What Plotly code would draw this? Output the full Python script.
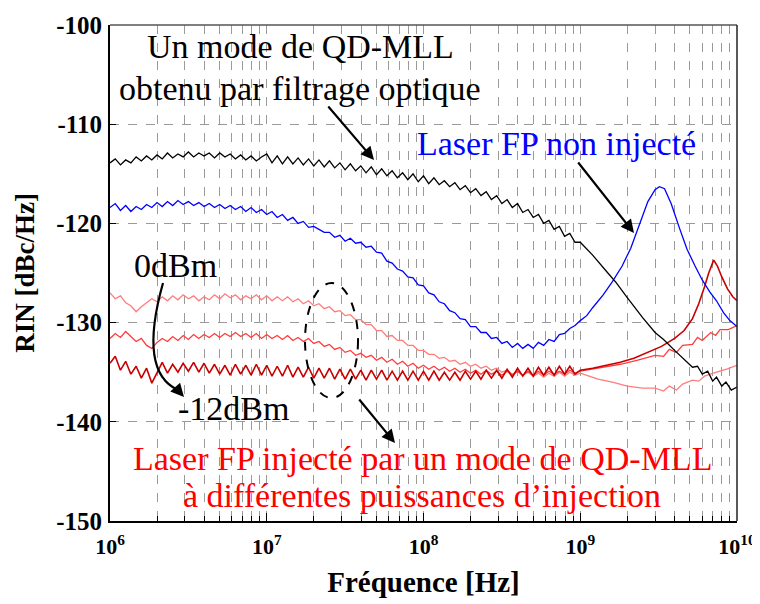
import plotly.graph_objects as go

# ---------------- data ----------------
# shared frequency grid for the noisy low-frequency part (1 MHz .. 1 GHz)
f_low = [1.000e6, 1.080e6, 1.166e6, 1.259e6, 1.359e6, 1.468e6, 1.585e6, 1.711e6, 1.848e6, 1.995e6,
         2.154e6, 2.326e6, 2.512e6, 2.712e6, 2.929e6, 3.162e6, 3.415e6, 3.687e6, 3.981e6, 4.299e6,
         4.642e6, 5.012e6, 5.412e6, 5.843e6, 6.310e6, 6.813e6, 7.356e6, 7.943e6, 8.577e6, 9.261e6,
         1.000e7, 1.080e7, 1.166e7, 1.259e7, 1.359e7, 1.468e7, 1.585e7, 1.711e7, 1.848e7, 1.995e7,
         2.154e7, 2.326e7, 2.512e7, 2.712e7, 2.929e7, 3.162e7, 3.415e7, 3.687e7, 3.981e7, 4.299e7,
         4.642e7, 5.012e7, 5.412e7, 5.843e7, 6.310e7, 6.813e7, 7.356e7, 7.943e7, 8.577e7, 9.261e7,
         1.000e8, 1.080e8, 1.166e8, 1.259e8, 1.359e8, 1.468e8, 1.585e8, 1.711e8, 1.848e8, 1.995e8,
         2.154e8, 2.326e8, 2.512e8, 2.712e8, 2.929e8, 3.162e8, 3.415e8, 3.687e8, 3.981e8, 4.299e8,
         4.642e8, 5.012e8, 5.412e8, 5.843e8, 6.310e8, 6.813e8, 7.356e8, 7.943e8, 8.577e8, 9.261e8,
         1.000e9]

# "Un mode de QD-MLL obtenu par filtrage optique" (black)
black_low = [-113.9, -113.5, -114.1, -113.6, -113.9, -113.3, -113.7, -113.2, -113.6, -113.1,
             -113.5, -112.9, -113.4, -113.0, -113.3, -112.8, -113.3, -112.9, -113.2, -112.9,
             -113.4, -112.9, -113.3, -113.0, -113.5, -113.1, -113.6, -113.2, -113.7, -113.3,
             -113.0, -113.9, -113.2, -114.0, -113.3, -114.0, -113.4, -114.1, -113.5, -114.2,
             -113.6, -114.3, -113.7, -114.4, -113.9, -114.6, -114.0, -114.7, -114.2, -114.9,
             -114.3, -115.1, -114.5, -115.2, -114.7, -115.4, -114.9, -115.6, -115.0, -115.8,
             -115.2, -116.0, -115.4, -116.1, -115.7, -116.3, -115.9, -116.6, -116.2, -116.9,
             -116.5, -117.2, -116.8, -117.6, -117.2, -118.0, -117.6, -118.4, -118.0, -118.9,
             -118.6, -119.4, -119.1, -120.0, -119.7, -120.6, -120.3, -121.3, -121.0, -121.9,
             -121.9]
black_high_f = [1.2e9, 1.5e9, 1.7e9, 2.0e9, 2.5e9, 3.0e9, 3.4e9, 4.0e9, 4.5e9, 5.2e9,
                5.6e9, 6.0e9, 6.5e9, 7.0e9, 7.4e9, 8.0e9, 8.5e9, 9.2e9, 1.0e10]
black_high = [-123.2, -125.0, -126.0, -127.5, -129.5, -131.0, -131.7, -132.8, -133.6, -134.5,
              -134.4, -135.2, -134.9, -135.9, -135.5, -136.4, -136.0, -136.8, -136.5]

# "Laser FP non injecté" (blue)
blue_low = [-118.4, -118.0, -118.7, -118.2, -118.8, -118.3, -118.6, -118.1, -118.4, -117.9,
            -118.3, -117.8, -118.2, -117.7, -118.1, -117.8, -118.2, -117.9, -118.3, -118.0,
            -118.4, -118.1, -118.5, -118.2, -118.6, -118.3, -118.8, -118.4, -118.9, -118.6,
            -119.1, -118.8, -119.4, -119.1, -119.7, -119.4, -120.0, -119.8, -120.4, -120.3,
            -120.6, -120.9, -120.9, -121.4, -121.2, -121.8, -121.5, -122.0, -121.9, -122.4,
            -122.3, -122.9, -123.0, -123.8, -124.0, -124.6, -124.8, -125.4, -125.5, -126.2,
            -126.3, -127.0, -127.2, -127.9, -128.1, -128.8, -129.0, -129.6, -129.7, -130.4,
            -130.4, -131.0, -131.0, -131.6, -131.5, -132.1, -131.9, -132.5, -132.1, -132.6,
            -132.2, -132.6, -132.0, -132.3, -131.7, -131.9, -131.2, -131.1, -130.6, -130.3,
            -129.8]
blue_high_f = [1.1e9, 1.2e9, 1.4e9, 1.6e9, 1.85e9, 2.1e9, 2.4e9, 2.7e9, 3.0e9, 3.2e9,
               3.45e9, 3.8e9, 4.3e9, 4.8e9, 5.4e9, 6.0e9, 6.7e9, 7.4e9, 8.2e9, 9.0e9, 1.0e10]
blue_high = [-129.3, -128.5, -127.2, -125.9, -124.3, -122.5, -120.0, -117.8, -116.6, -116.3,
             -116.5, -118.0, -120.5, -122.6, -124.3, -125.7, -126.9, -127.8, -129.0, -129.8, -130.4]

# injected laser, 0 dBm (light red)
light_low = [-127.0, -127.6, -127.3, -128.0, -128.3, -128.9, -128.4, -128.0, -127.6, -127.9,
             -127.4, -127.8, -127.3, -127.7, -127.2, -127.6, -127.3, -127.8, -127.4, -127.7,
             -127.2, -127.6, -127.1, -127.5, -127.2, -127.7, -127.3, -127.6, -127.2, -127.7,
             -127.3, -127.8, -127.4, -127.8, -127.4, -127.9, -127.6, -128.1, -127.8, -128.3,
             -128.1, -128.6, -128.4, -128.9, -128.8, -129.3, -129.2, -129.7, -129.7, -130.2,
             -130.2, -130.8, -130.8, -131.4, -131.3, -131.8, -131.8, -132.3, -132.3, -132.8,
             -132.8, -133.2, -133.2, -133.6, -133.5, -133.9, -133.8, -134.2, -134.0, -134.4,
             -134.2, -134.6, -134.4, -134.8, -134.6, -135.0, -134.8, -135.2, -134.9, -135.3,
             -135.0, -135.4, -135.1, -135.5, -135.1, -135.4, -135.0, -135.4, -135.0, -135.3,
             -135.1]
light_high_f = [1.3e9, 1.6e9, 2.0e9, 2.5e9, 3.0e9, 3.4e9, 3.7e9, 4.1e9, 4.5e9, 5.2e9,
                5.7e9, 6.2e9, 7.4e9, 8.6e9, 1.0e10]
light_high = [-135.7, -136.0, -136.4, -136.6, -136.6, -136.9, -136.4, -136.8, -136.2, -135.8,
              -135.9, -135.4, -135.0, -134.7, -134.3]

# injected laser, intermediate power (red)
mid_low = [-131.6, -131.1, -131.5, -130.9, -131.4, -131.9, -131.6, -132.3, -132.6, -132.0,
           -131.6, -131.9, -131.4, -131.8, -131.3, -131.7, -131.2, -131.6, -131.2, -131.5,
           -131.1, -131.5, -131.1, -131.4, -131.0, -131.4, -131.1, -131.5, -131.1, -131.6,
           -131.2, -131.6, -131.3, -131.7, -131.3, -131.8, -131.5, -131.9, -131.6, -132.1,
           -131.9, -132.4, -132.2, -132.7, -132.5, -133.0, -132.8, -133.3, -133.1, -133.5,
           -133.3, -133.8, -133.5, -134.0, -133.7, -134.2, -133.9, -134.4, -134.1, -134.6,
           -134.3, -134.7, -134.4, -134.8, -134.5, -134.9, -134.6, -135.0, -134.7, -135.1,
           -134.8, -135.2, -134.8, -135.2, -134.9, -135.3, -134.9, -135.3, -134.9, -135.3,
           -134.9, -135.3, -134.9, -135.3, -134.9, -135.2, -134.9, -135.2, -134.8, -135.1,
           -134.9]
mid_high_f = [1.3e9, 1.8e9, 2.3e9, 3.0e9, 3.4e9, 3.7e9, 4.1e9, 4.5e9, 5.2e9, 5.6e9,
              6.0e9, 6.8e9, 7.3e9, 7.8e9, 8.8e9, 1.0e10]
mid_high = [-134.6, -134.2, -133.8, -133.3, -133.4, -132.7, -133.0, -132.3, -132.2, -131.5,
            -131.8, -131.0, -131.3, -130.7, -130.7, -130.3]

# injected laser, -12 dBm (dark red)
dark_low = [-134.1, -133.4, -134.8, -133.9, -135.2, -134.4, -135.6, -134.6, -136.1, -135.0,
            -134.0, -135.1, -134.2, -135.0, -134.1, -134.9, -134.0, -135.0, -134.1, -135.1,
            -134.2, -135.2, -134.3, -135.3, -134.2, -135.2, -134.3, -135.3, -134.2, -135.3,
            -134.3, -135.4, -134.4, -135.4, -134.3, -135.5, -134.5, -135.5, -134.5, -135.6,
            -134.6, -135.6, -134.6, -135.7, -134.7, -135.7, -134.7, -135.7, -134.8, -135.8,
            -134.8, -135.7, -134.8, -135.8, -134.9, -135.8, -134.9, -135.8, -134.9, -135.8,
            -134.9, -135.8, -134.9, -135.8, -135.0, -135.8, -135.0, -135.8, -134.9, -135.7,
            -134.9, -135.7, -134.8, -135.6, -134.8, -135.6, -134.7, -135.5, -134.6, -135.4,
            -134.6, -135.4, -134.5, -135.3, -134.5, -135.3, -134.4, -135.2, -134.4, -135.2,
            -134.8]
dark_high_f = [1.2e9, 1.5e9, 1.8e9, 2.2e9, 2.7e9, 3.3e9, 4.0e9, 4.6e9, 5.2e9, 5.7e9,
               6.2e9, 6.6e9, 7.1e9, 7.5e9, 8.0e9, 8.7e9, 9.4e9, 1.0e10]
dark_high = [-134.6, -134.3, -134.0, -133.6, -133.0, -132.4, -131.6, -130.8, -129.6, -128.1,
             -126.4, -125.0, -123.7, -124.3, -125.4, -126.6, -127.4, -127.8]

major_ticks = [1e6, 1e7, 1e8, 1e9, 1e10]
major_text = ["<b>10<sup>6</sup></b>", "<b>10<sup>7</sup></b>", "<b>10<sup>8</sup></b>",
              "<b>10<sup>9</sup></b>", "<b>10<sup>10</sup></b>"]
minor_ticks = [2e6, 3e6, 4e6, 5e6, 6e6, 7e6, 8e6, 9e6,
               2e7, 3e7, 4e7, 5e7, 6e7, 7e7, 8e7, 9e7,
               2e8, 3e8, 4e8, 5e8, 6e8, 7e8, 8e8, 9e8,
               2e9, 3e9, 4e9, 5e9, 6e9, 7e9, 8e9, 9e9]
y_ticks = [-150, -140, -130, -120, -110, -100]
y_text = ["<b>-150</b>", "<b>-140</b>", "<b>-130</b>", "<b>-120</b>", "<b>-110</b>", "<b>-100</b>"]

# ---------------- figure ----------------
SERIF = "Liberation Serif, Times New Roman, serif"
fig = go.Figure()
fig.add_trace(go.Scatter(x=f_low + light_high_f, y=light_low + light_high, mode="lines",
                         line=dict(color="#FF7C7C", width=1.3)))
fig.add_trace(go.Scatter(x=f_low + mid_high_f, y=mid_low + mid_high, mode="lines",
                         line=dict(color="#FF3B3B", width=1.3)))
fig.add_trace(go.Scatter(x=f_low + dark_high_f, y=dark_low + dark_high, mode="lines",
                         line=dict(color="#C80000", width=1.6)))
fig.add_trace(go.Scatter(x=f_low + blue_high_f, y=blue_low + blue_high, mode="lines",
                         line=dict(color="#0000FF", width=1.3)))
fig.add_trace(go.Scatter(x=f_low + black_high_f, y=black_low + black_high, mode="lines",
                         line=dict(color="#000000", width=1.3)))

# the page body has an 8 px margin: figure is sized so the plot lands at x 110..737, y 25..521
OFF = 8
W, H = 752, 596
L, R, T, B = 102, 23, 17, 83
PW, PH = W - L - R, H - T - B


def px(x):
    return (x - OFF - L) / PW


def py(y):
    return (OFF + H - B - y) / PH


fig.update_layout(
    width=W, height=H, margin=dict(l=L, r=R, t=T, b=B, autoexpand=False),
    paper_bgcolor="white", plot_bgcolor="white", showlegend=False,
    font=dict(family=SERIF, color="black"),
    xaxis=dict(
        type="log", range=[6, 10], tickmode="array", tickvals=major_ticks, ticktext=major_text,
        tickfont=dict(family=SERIF, size=22, color="black"), ticklabelstandoff=5,
        automargin=False,
        showgrid=True, gridcolor="#9a9a9a", griddash="dash", gridwidth=1,
        ticks="inside", ticklen=8, tickcolor="black",
        minor=dict(tickmode="array", tickvals=minor_ticks, showgrid=True, gridcolor="#9a9a9a",
                   griddash="dash", gridwidth=1, ticks="inside", ticklen=5, tickcolor="black"),
        showline=True, linecolor="black", linewidth=2, mirror=False,
        title=dict(text="<b>Fréquence [Hz]</b>", font=dict(family=SERIF, size=29, color="black"),
                   standoff=13),
        zeroline=False,
    ),
    yaxis=dict(
        range=[-150, -100], tickmode="array", tickvals=y_ticks, ticktext=y_text,
        tickfont=dict(family=SERIF, size=25, color="black"), ticklabelstandoff=1,
        automargin=False,
        showgrid=True, gridcolor="#9a9a9a", griddash="dash", gridwidth=1,
        ticks="inside", ticklen=6, tickcolor="black",
        showline=True, linecolor="black", linewidth=2, mirror=False,
        title=dict(text="<b>RIN [dBc/Hz]</b>", font=dict(family=SERIF, size=27, color="black"),
                   standoff=14),
        zeroline=False,
    ),
)

# top/right border
fig.add_shape(type="line", xref="paper", yref="paper", x0=0, x1=1, y0=1, y1=1,
              line=dict(color="#555555", width=1.5))
fig.add_shape(type="line", xref="paper", yref="paper", x0=1, x1=1, y0=0, y1=1,
              line=dict(color="#222222", width=1.5))

TS = 34


def txt(x, y, s, color):
    fig.add_annotation(x=px(x), y=py(y), xref="paper", yref="paper", text=s, showarrow=False,
                       xanchor="center", yanchor="middle",
                       font=dict(family=SERIF, size=TS, color=color))


txt(300, 47, "Un mode de QD-MLL", "black")
txt(300, 88, "obtenu par filtrage optique", "black")
txt(556, 143, "Laser FP non injecté", "#0000FF")
txt(175, 265, "0dBm", "black")
txt(233, 408, "-12dBm", "black")
txt(422, 458, "Laser FP injecté par un mode de QD-MLL", "#FF0000")
txt(422, 495, "à différentes puissances d’injection", "#FF0000")


def arrow(x0, y0, x1, y1):
    fig.add_annotation(x=px(x1), y=py(y1), xref="paper", yref="paper", text="",
                       showarrow=True, ax=x0 - x1, ay=y0 - y1, axref="pixel", ayref="pixel",
                       arrowhead=2, arrowsize=1.2, arrowwidth=2.2, arrowcolor="black")


arrow(327, 105, 374, 160)
arrow(577, 161, 634, 233)
arrow(358, 398, 395, 443)
arrow(175, 387, 184, 397)

# curved arrow 0dBm -> -12dBm
fig.add_shape(type="path", xref="paper", yref="paper",
              path=f"M {px(163)},{py(283)} Q {px(138)},{py(372)} {px(178)},{py(390)}",
              line=dict(color="black", width=2.2))

# dashed ellipse
fig.add_shape(type="circle", xref="paper", yref="paper",
              x0=px(305), x1=px(358), y0=py(398), y1=py(283),
              line=dict(color="black", width=2, dash="dash"))

fig.write_html("out.html")
